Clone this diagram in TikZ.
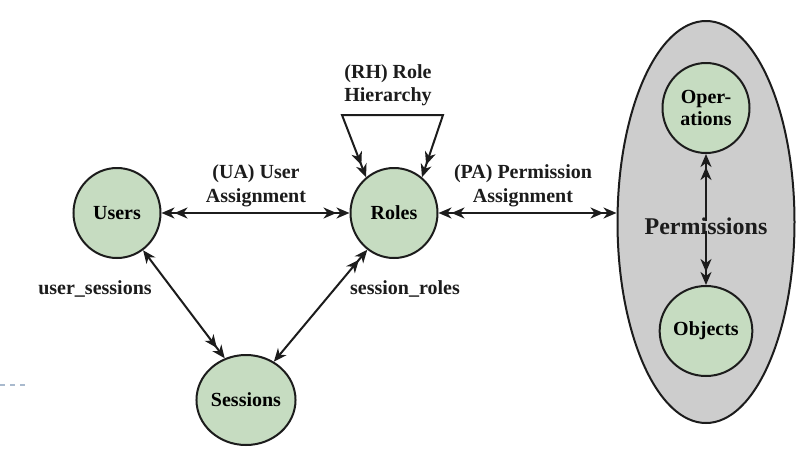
\documentclass[tikz,border=0pt]{standalone}
\usepackage{fontspec}
\setmainfont{Liberation Serif}
\usetikzlibrary{arrows.meta,shapes.geometric}
\definecolor{nodegreen}{HTML}{C6DCC1}
\definecolor{permgray}{HTML}{CDCDCD}
\definecolor{edgecol}{HTML}{1C1C1C}
\definecolor{dashblue}{HTML}{A9BACE}
\tikzset{
  ent/.style={ellipse, draw=edgecol, line width=2pt, fill=nodegreen, inner sep=0pt,
    minimum width=87pt, minimum height=90pt, align=center,
    font=\fontsize{20}{22.5}\selectfont\bfseries},
  lbl/.style={align=center, inner sep=0pt, text=edgecol,
    font=\fontsize{20}{23.5}\selectfont\bfseries},
  conn/.style={draw=edgecol, line width=2pt},
  >={Stealth[length=13pt,width=11pt,inset=4pt]}
}
\begin{document}
\begin{tikzpicture}[x=1pt,y=-1pt]
\useasboundingbox (0,0) rectangle (804,464);
% permissions container
\node[ellipse, draw=edgecol, line width=2pt, fill=permgray, minimum width=177pt,
  minimum height=402pt, inner sep=0pt] (perm) at (706,222) {};
\node[lbl, font=\fontsize{24}{28}\selectfont\bfseries] (permtxt) at (706,226) {Permissions};
\node[ent] (ops) at (706,108) {Oper-\\ations};
\node[ent] (objs) at (706,331) {Objects};
% main entities
\node[ent] (users) at (117,213) {Users};
\node[ent] (roles) at (394,213) {Roles};
\node[ent] (sessions) at (246,400) {Sessions};
% labels
\node[lbl] (ua) at (256,186) {(UA) User\\Assignment};
\node[lbl] (pa) at (523,186) {(PA) Permission\\Assignment};
\node[lbl] (rh) at (388,85) {(RH) Role\\Hierarchy};
\node[lbl] (us) at (95,289) {user\_sessions};
\node[lbl] (sr) at (405,289) {session\_roles};
% connectors
\draw[conn, <<->>] (users.east) -- (roles.west);
\draw[conn, <<->>] (roles.east) -- (roles.east -| perm.west);
\draw[conn, ->>] ([yshift=-4pt]permtxt.north) -- (ops.south);
\draw[conn, ->>] ([yshift=4pt]permtxt.south) -- (objs.north);
\coordinate (rhl) at (342,115);
\coordinate (rhr) at (443,115);
\draw[conn, <<->>, line join=miter] (roles.128) -- (rhl) -- (rhr) -- (roles.52);
\draw[conn, <->>] (users.-55) -- (sessions.117);
\draw[conn, <->>] (sessions.54) -- (roles.-126);
% stray dashed mark at left edge
\draw[dashblue, line width=1.5pt, dash pattern=on 5pt off 5pt] (0,385) -- (28,385);
\end{tikzpicture}
\end{document}
